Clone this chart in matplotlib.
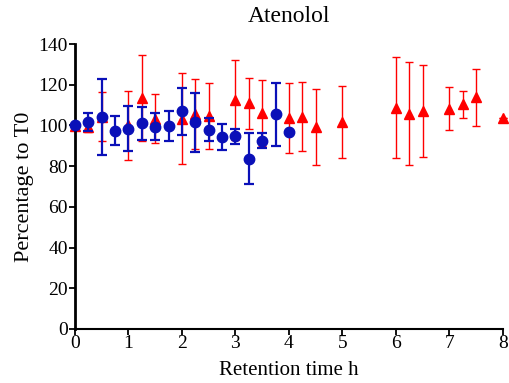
import numpy as np
import matplotlib
matplotlib.use("Agg")
import matplotlib.pyplot as plt

plt.rcParams['font.family'] = ['Liberation Serif', 'DejaVu Serif']

# blue series (circles)
blue_t = [0, 0.25, 0.5, 0.75, 1, 1.25, 1.5, 1.75, 2, 2.25, 2.5, 2.75, 3, 3.25, 3.5, 3.75, 4]
blue_y = [100, 101.6, 104, 97.5, 98.5, 101, 99.4, 99.7, 107, 101.6, 98, 94.3, 94.8, 83.7, 92.6, 105.4, 96.9]
blue_sd = [0, 4.5, 18.6, 7, 11, 8, 6.5, 7.5, 11.6, 14.5, 5.5, 6.5, 3.7, 12.5, 3.8, 15.5, 0]

# red series (triangles)
red_t = [0, 0.25, 0.5, 1, 1.25, 1.5, 2, 2.25, 2.5, 3, 3.25, 3.5, 4, 4.25, 4.5, 5,
         6, 6.25, 6.5, 7, 7.25, 7.5, 8]
red_y = [99.5, 99, 104.4, 100, 113.4, 103.4, 103.4, 105.4, 104.6, 112.4, 111, 106.2,
         103.8, 104.3, 99.3, 101.8, 108.7, 105.8, 107, 108.2, 110.3, 113.9, 103.8]
red_sd = [1.5, 2, 12, 17, 21, 12, 22.5, 17.2, 16.2, 19.6, 12.5, 16.2,
          17.3, 17, 18.7, 17.6, 24.9, 25.3, 22.5, 10.5, 6.5, 14, 0]

fig = plt.figure(figsize=(5.1, 3.83), dpi=100)
ax = fig.add_axes([0.147, 0.141, 0.839, 0.744])

ax.errorbar(red_t, red_y, yerr=red_sd, fmt='^', color='#FF0000', ms=7.5,
            elinewidth=1.0, capsize=3, capthick=1.0, clip_on=False, zorder=2)
ax.errorbar(blue_t, blue_y, yerr=blue_sd, fmt='o', color='#0A10B8', ms=7.5,
            elinewidth=1.6, capsize=3.3, capthick=1.6, clip_on=False, zorder=3)

ax.set_xlim(0, 8)
ax.set_ylim(0, 140)
ax.set_xticks(range(0, 9))
ax.set_yticks(range(0, 141, 20))
ax.spines['top'].set_visible(False)
ax.spines['right'].set_visible(False)
ax.spines['left'].set_linewidth(2.0)
ax.spines['bottom'].set_linewidth(1.5)
ax.tick_params(axis='both', direction='out', length=4, width=1.3, labelsize=14, pad=1)
ax.tick_params(axis='x', pad=0)

ax.set_title("Atenolol", fontsize=17, pad=16)
ax.set_xlabel("Retention time h", fontsize=15, labelpad=7)
ax.set_ylabel("Percentage to T0", fontsize=16, labelpad=3)

fig.savefig("out.png", dpi=100)
